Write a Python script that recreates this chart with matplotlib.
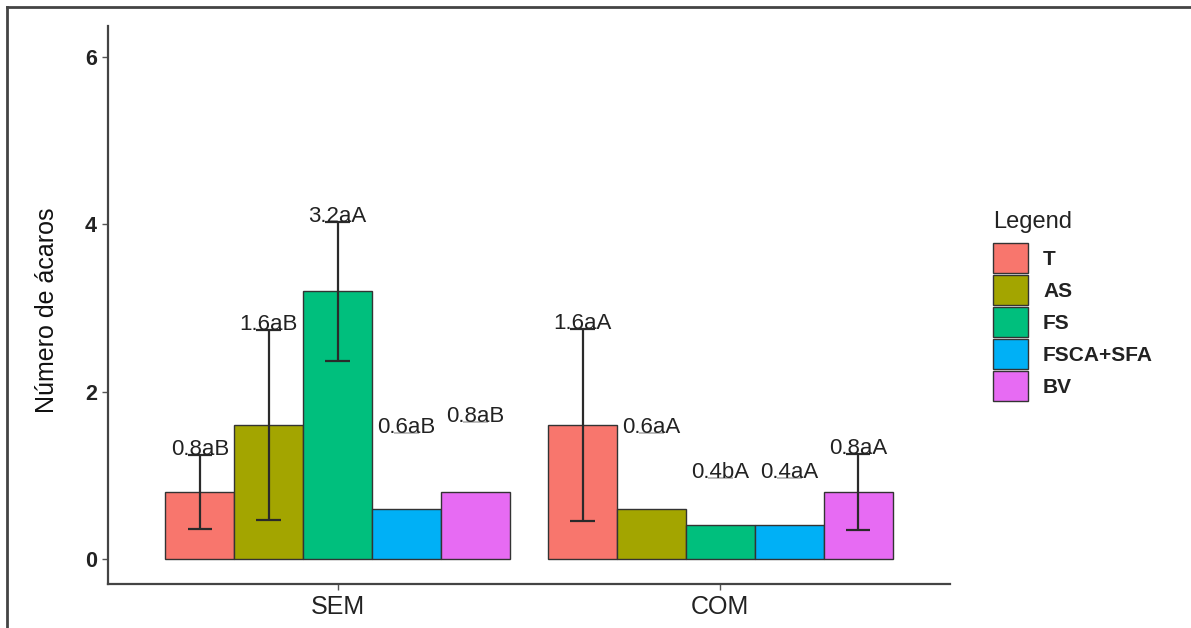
import matplotlib
matplotlib.use("Agg")
import matplotlib.pyplot as plt
from matplotlib.lines import Line2D
import numpy as np

plt.rcParams['font.family'] = ['Liberation Sans', 'DejaVu Sans']

groups = ["SEM", "COM"]
treatments = ["T", "AS", "FS", "FSCA+SFA", "BV"]
colors = ["#F8766D", "#A3A500", "#00BF7D", "#00B0F6", "#E76BF3"]

# means per group, ordered as treatments
means_sem = [0.8, 1.6, 3.2, 0.6, 0.8]
means_com = [1.6, 0.6, 0.4, 0.4, 0.8]
# standard deviations (upper extent used for label placement)
sd_sem = [0.44, 1.14, 0.83, 0.91, 0.84]
sd_com = [1.15, 0.90, 0.57, 0.57, 0.45]
# whether the vertical error bar is visible
show_sem = [True, True, True, False, False]
show_com = [True, False, False, False, True]
labels_sem = ["0.8aB", "1.6aB", "3.2aA", "0.6aB", "0.8aB"]
labels_com = ["1.6aA", "0.6aA", "0.4bA", "0.4aA", "0.8aA"]

means = [means_sem, means_com]
sds = [sd_sem, sd_com]
shows = [show_sem, show_com]
labs = [labels_sem, labels_com]

W, H = 1191, 628
fig = plt.figure(figsize=(W / 100, H / 100), dpi=100)
ax = fig.add_axes([108 / W, 1 - 584 / H, (950 - 108) / W, (584 - 26) / H])

n = len(treatments)
bw = 0.9 / n
cap_half = 0.032
handles = []
for gi, g in enumerate(groups):
    for ti in range(n):
        x = gi + (ti - (n - 1) / 2) * bw
        m = means[gi][ti]
        s = sds[gi][ti]
        b = ax.bar(x, m, width=bw, color=colors[ti], edgecolor="#333333",
                   linewidth=1.0, zorder=2)
        if gi == 0:
            handles.append(b)
        if shows[gi][ti]:
            ax.vlines(x, m - s, m + s, color="#2a2a2a", linewidth=1.6, zorder=3)
            ax.hlines([m - s, m + s], x - cap_half, x + cap_half,
                      color="#2a2a2a", linewidth=1.6, zorder=3)
        else:
            ax.hlines(m + s, x - cap_half, x + cap_half,
                      color="#b0b0b0", linewidth=1.2, zorder=3)
        ax.text(x, m + s, labs[gi][ti], ha="center", va="baseline",
                fontsize=16, color="#222222", zorder=4)

ax.set_xlim(-0.6, 1.6)
ax.set_ylim(-0.3, 6.37)
ax.set_xticks(range(len(groups)))
ax.set_xticklabels(groups, fontsize=18, color="#222222")
ax.set_yticks([0, 2, 4, 6])
ax.set_yticklabels(["0", "2", "4", "6"], fontsize=15.5, color="#222222",
                   fontweight="bold")
ax.set_ylabel("Número de ácaros", fontsize=18, color="#111111")
ax.yaxis.set_label_coords(-0.058, 0.491)
for side in ["top", "right"]:
    ax.spines[side].set_visible(False)
for side in ["left", "bottom"]:
    ax.spines[side].set_color("#444444")
    ax.spines[side].set_linewidth(1.6)
ax.tick_params(axis="both", colors="#555555", length=4, width=1.0, pad=4,
               labelcolor="#222222")

fs_leg = 15.0
fs_px = fs_leg * 100 / 72
hh = (30 / fs_px - 0.245) / 0.65
leg = fig.legend(handles=handles, labels=treatments,
                 loc="upper left", bbox_to_anchor=(993 / W, 1 - 243 / H),
                 frameon=False, fontsize=fs_leg,
                 handlelength=35 / fs_px, handleheight=hh,
                 labelspacing=2 / fs_px, handletextpad=15 / fs_px,
                 borderaxespad=0, borderpad=0)
for t in leg.get_texts():
    t.set_fontweight("bold")
    t.set_color("#222222")
fig.text(993 / W, 1 - 222 / H, "Legend", fontsize=17, color="#222222",
         ha="left", va="center")

# outer frame (only top and left visible in the crop)
fig.add_artist(Line2D([7 / W, 1.0], [1 - 7 / H, 1 - 7 / H], transform=fig.transFigure,
                      color="#444444", linewidth=2.0))
fig.add_artist(Line2D([7 / W, 7 / W], [0.0, 1 - 7 / H], transform=fig.transFigure,
                      color="#444444", linewidth=2.0))

fig.savefig("out.png", dpi=100)
